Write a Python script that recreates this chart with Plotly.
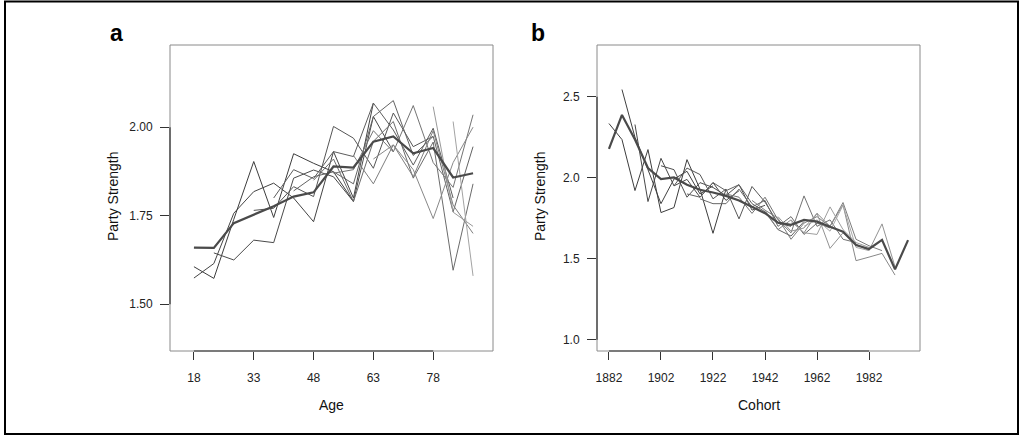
import plotly.graph_objects as go

# ---------------- data: panel a (Age) ----------------
ages = [18, 23, 28, 33, 38, 43, 48, 53, 58, 63, 68, 73, 78, 83, 88]
age_mean = [1.660, 1.659, 1.729, 1.752, 1.777, 1.804, 1.816, 1.889, 1.886,
            1.959, 1.974, 1.926, 1.941, 1.858, 1.870]

age_l1_start, age_l1 = 18, [1.606, 1.573, 1.740, 1.903, 1.745, 1.925, 1.898, 1.874, 1.790]
age_l2_start, age_l2 = 18, [1.574, 1.615, 1.757, 1.818, 1.842, 1.800, 1.733, 1.931, 1.800, 2.068]
age_l3_start, age_l3 = 23, [1.645, 1.625, 1.681, 1.674, 1.856, 1.879, 1.860, 1.790, 2.030, 1.931]
age_l4_start, age_l4 = 33, [1.765, 1.771, 1.832, 1.804, 2.002, 1.969, 1.884, 2.040, 1.945, 1.974]
age_l5_start, age_l5 = 38, [1.800, 1.880, 1.855, 1.931, 1.917, 2.068, 1.992, 1.893, 1.997, 1.800]
age_l6_start, age_l6 = 43, [1.820, 1.860, 1.874, 1.840, 2.030, 2.075, 1.920, 1.974, 1.761, 1.945]
age_l7_start, age_l7 = 48, [1.850, 1.910, 1.790, 1.960, 2.016, 1.856, 1.958, 1.596, 1.840]
age_l8_start, age_l8 = 53, [1.870, 1.880, 1.990, 1.930, 2.061, 1.900, 1.830, 2.035]
age_l9_start, age_l9 = 58, [1.920, 1.840, 1.950, 1.860, 1.990, 1.780, 1.700]
age_l10_start, age_l10 = 63, [1.910, 1.950, 1.880, 1.742, 1.900, 2.000]
age_l11_start, age_l11 = 78, [2.058, 1.760, 1.720]
age_l12_start, age_l12 = 83, [2.016, 1.580]

age_ticks = [18, 33, 48, 63, 78]
age_yticks = [1.50, 1.75, 2.00]
age_yticklabels = ["1.50", "1.75", "2.00"]

# ---------------- data: panel b (Cohort) ----------------
cohorts = [1882, 1887, 1892, 1897, 1902, 1907, 1912, 1917, 1922, 1927, 1932, 1937,
           1942, 1947, 1952, 1957, 1962, 1967, 1972, 1977, 1982, 1987, 1992, 1997]
cohort_mean = [2.178, 2.388, 2.236, 2.060, 1.992, 2.002, 1.957, 1.926, 1.909, 1.888,
               1.860, 1.822, 1.781, 1.723, 1.709, 1.740, 1.729, 1.698, 1.667, 1.585,
               1.560, 1.616, 1.434, 1.615]

coh_l1_start, coh_l1 = 1882, [2.335, 2.236, 1.921, 2.174, 1.785, 1.816, 2.112, 1.930, 1.657, 1.930]
coh_l2_start, coh_l2 = 1887, [2.545, 2.250, 2.050, 1.840, 1.992, 2.040, 1.900, 1.950]
coh_l3_start, coh_l3 = 1892, [2.329, 1.853, 2.120, 1.950, 1.990, 1.880, 1.970, 1.860, 1.920]
coh_l4_start, coh_l4 = 1902, [2.074, 2.050, 1.880, 1.970, 1.940, 1.890, 1.957, 1.800, 1.830]
coh_l5_start, coh_l5 = 1907, [1.950, 2.060, 2.020, 1.870, 1.930, 1.746, 1.946, 1.850, 1.720, 1.700]
coh_l6_start, coh_l6 = 1912, [1.900, 1.880, 1.970, 1.920, 1.957, 1.840, 1.790, 1.680, 1.640, 1.730]
coh_l7_start, coh_l7 = 1917, [1.870, 1.840, 1.840, 1.930, 1.820, 1.860, 1.700, 1.760, 1.650, 1.720, 1.690]
coh_l8_start, coh_l8 = 1927, [1.900, 1.880, 1.780, 1.880, 1.740, 1.660, 1.888, 1.700, 1.740, 1.620, 1.600]
coh_l9_start, coh_l9 = 1937, [1.860, 1.800, 1.750, 1.620, 1.720, 1.760, 1.700, 1.847, 1.620, 1.580, 1.550]
coh_l10_start, coh_l10 = 1942, [1.800, 1.680, 1.740, 1.660, 1.780, 1.700, 1.833, 1.488, 1.510, 1.533, 1.399]
coh_l11_start, coh_l11 = 1947, [1.760, 1.670, 1.690, 1.780, 1.564, 1.660, 1.590, 1.550, 1.715, 1.450]
coh_l12_start, coh_l12 = 1952, [1.730, 1.660, 1.650, 1.820, 1.680, 1.600, 1.570]
coh_l13_start, coh_l13 = 1957, [1.700, 1.740, 1.670, 1.830, 1.570, 1.550]

coh_ticks = [1882, 1902, 1922, 1942, 1962, 1982]
coh_yticks = [1.0, 1.5, 2.0, 2.5]
coh_yticklabels = ["1.0", "1.5", "2.0", "2.5"]

# ---------------- styles ----------------
age_lines = [(age_l1_start, age_l1), (age_l2_start, age_l2), (age_l3_start, age_l3),
             (age_l4_start, age_l4), (age_l5_start, age_l5), (age_l6_start, age_l6),
             (age_l7_start, age_l7), (age_l8_start, age_l8), (age_l9_start, age_l9),
             (age_l10_start, age_l10), (age_l11_start, age_l11), (age_l12_start, age_l12)]
age_colors = ["#3d3d3d", "#444444", "#4a4a4a", "#555555", "#5c5c5c", "#636363",
              "#6b6b6b", "#747474", "#7e7e7e", "#888888", "#999999", "#a3a3a3"]

coh_lines = [(coh_l1_start, coh_l1), (coh_l2_start, coh_l2), (coh_l3_start, coh_l3),
             (coh_l4_start, coh_l4), (coh_l5_start, coh_l5), (coh_l6_start, coh_l6),
             (coh_l7_start, coh_l7), (coh_l8_start, coh_l8), (coh_l9_start, coh_l9),
             (coh_l10_start, coh_l10), (coh_l11_start, coh_l11), (coh_l12_start, coh_l12),
             (coh_l13_start, coh_l13)]
coh_colors = ["#3d3d3d", "#404040", "#474747", "#4e4e4e", "#575757", "#5f5f5f", "#686868",
              "#737373", "#7d7d7d", "#888888", "#939393", "#9e9e9e", "#a8a8a8"]

MEAN_COLOR = "#4a4a4a"
W, H = 1022, 437
FONT = "Liberation Sans, Arial, Helvetica, sans-serif"

fig = go.Figure()

for (start, vals), col in zip(age_lines, age_colors):
    i0 = ages.index(start)
    fig.add_trace(go.Scatter(x=ages[i0:i0 + len(vals)], y=vals, mode="lines",
                             line=dict(color=col, width=1), xaxis="x", yaxis="y",
                             hoverinfo="skip", showlegend=False))
fig.add_trace(go.Scatter(x=ages, y=age_mean, mode="lines",
                         line=dict(color=MEAN_COLOR, width=2.2), xaxis="x", yaxis="y",
                         hoverinfo="skip", showlegend=False))

for (start, vals), col in zip(coh_lines, coh_colors):
    i0 = cohorts.index(start)
    fig.add_trace(go.Scatter(x=cohorts[i0:i0 + len(vals)], y=vals, mode="lines",
                             line=dict(color=col, width=1), xaxis="x2", yaxis="y2",
                             hoverinfo="skip", showlegend=False))
fig.add_trace(go.Scatter(x=cohorts, y=cohort_mean, mode="lines",
                         line=dict(color=MEAN_COLOR, width=2.2), xaxis="x2", yaxis="y2",
                         hoverinfo="skip", showlegend=False))

ydom = [1 - 351 / H, 1 - 45 / H]
tickfont = dict(family=FONT, size=12, color="#222222")
common_x = dict(showgrid=False, zeroline=False, showline=False, ticks="outside",
                ticklen=8, tickwidth=1, tickcolor="#333333", tickfont=tickfont,
                ticklabelstandoff=8)
common_y = dict(showgrid=False, zeroline=False, showline=False, ticks="outside",
                ticklen=9, tickwidth=1, tickcolor="#333333", tickfont=tickfont,
                ticklabelstandoff=5)

fig.update_layout(
    width=W, height=H,
    margin=dict(l=0, r=0, t=0, b=0, autoexpand=False),
    paper_bgcolor="white", plot_bgcolor="white",
    xaxis=dict(domain=[170 / W, 493 / W], range=[12, 93], tickvals=age_ticks,
               anchor="y", **common_x),
    yaxis=dict(domain=ydom, range=[1.368, 2.232], tickvals=age_yticks,
               ticktext=age_yticklabels, anchor="x", **common_y),
    xaxis2=dict(domain=[597 / W, 920 / W], range=[1877.4, 2001.6], tickvals=coh_ticks,
                anchor="y2", **common_x),
    yaxis2=dict(domain=ydom, range=[0.93, 2.82], tickvals=coh_yticks,
                ticktext=coh_yticklabels, anchor="x2", **common_y),
)

shapes = []
# frames
for xr, yr in [("x", "y"), ("x2", "y2")]:
    shapes.append(dict(type="rect", xref=f"{xr} domain", yref=f"{yr} domain",
                       x0=0, x1=1, y0=0, y1=1, line=dict(color="#8a8a8a", width=1),
                       layer="below"))
# axis lines over tick span
shapes += [
    dict(type="line", xref="x", yref="y domain", x0=age_ticks[0], x1=age_ticks[-1],
         y0=0, y1=0, line=dict(color="#333333", width=1.2)),
    dict(type="line", xref="x domain", yref="y", x0=0, x1=0, y0=age_yticks[0],
         y1=age_yticks[-1], line=dict(color="#333333", width=1.2)),
    dict(type="line", xref="x2", yref="y2 domain", x0=coh_ticks[0], x1=coh_ticks[-1],
         y0=0, y1=0, line=dict(color="#333333", width=1.2)),
    dict(type="line", xref="x2 domain", yref="y2", x0=0, x1=0, y0=coh_yticks[0],
         y1=coh_yticks[-1], line=dict(color="#333333", width=1.2)),
]
# outer border
shapes.append(dict(type="rect", xref="paper", yref="paper", x0=5 / W, x1=1018 / W,
                   y0=1 - 434 / H, y1=1 - 1.5 / H, line=dict(color="black", width=2)))
fig.update_layout(shapes=shapes)

lab = dict(family=FONT, size=14, color="#111111")
ann = [
    dict(text="<b>a</b>", x=116 / W, y=1 - 33 / H, font=dict(family=FONT, size=23, color="black")),
    dict(text="<b>b</b>", x=538 / W, y=1 - 33 / H, font=dict(family=FONT, size=23, color="black")),
    dict(text="Party Strength", x=113 / W, y=1 - 196 / H, textangle=-90, font=lab),
    dict(text="Party Strength", x=540 / W, y=1 - 196 / H, textangle=-90, font=lab),
    dict(text="Age", x=331.5 / W, y=1 - 405 / H, font=lab),
    dict(text="Cohort", x=758.5 / W, y=1 - 405 / H, font=lab),
]
for a in ann:
    a.update(xref="paper", yref="paper", showarrow=False, xanchor="center", yanchor="middle")
fig.update_layout(annotations=ann)

fig.write_html("out.html", config={"displayModeBar": False},
               post_script="document.body.style.margin='0px';document.body.style.overflow='hidden';")
